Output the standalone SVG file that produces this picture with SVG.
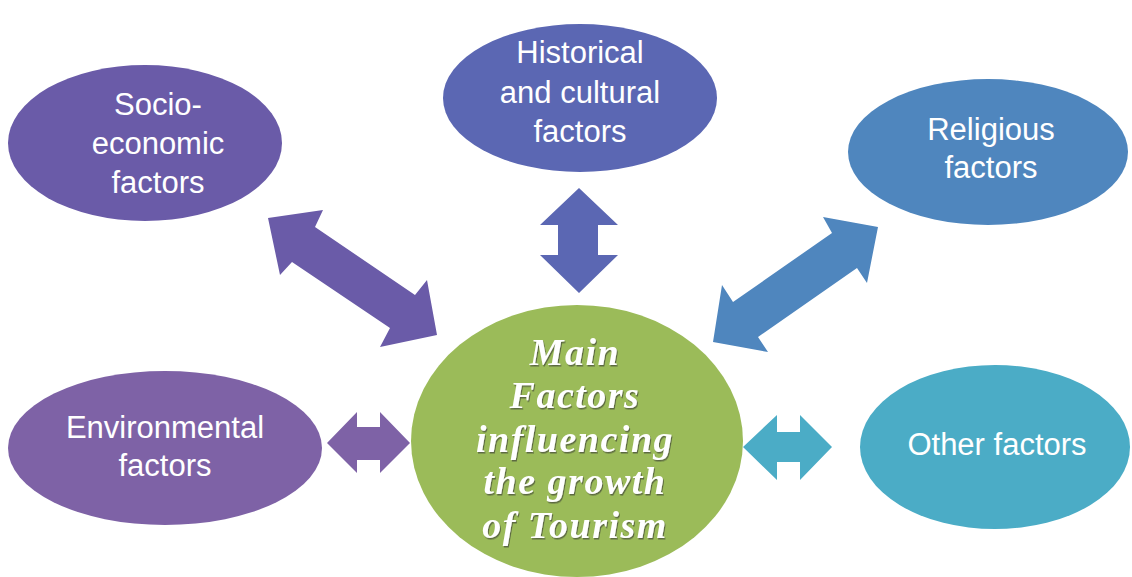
<svg xmlns="http://www.w3.org/2000/svg" width="1132" height="577" viewBox="0 0 1132 577">
<defs>
<style>
.lbl{font-family:"Liberation Sans",Arial,sans-serif;font-size:31px;fill:#fff;text-anchor:middle}
.main{font-family:"Liberation Serif","Times New Roman",serif;font-size:38px;font-weight:bold;font-style:italic;fill:#fff;text-anchor:middle;letter-spacing:1.5px}
</style>
<filter id="sh" x="-10%" y="-10%" width="120%" height="130%">
<feDropShadow dx="1" dy="1.5" stdDeviation="0.6" flood-color="#333" flood-opacity="0.6"/>
</filter>
</defs>
<rect width="1132" height="577" fill="#fff"/>
<g id="connectors">
<polygon fill="#6A5BA8" points="268,218 323,210 315,227 415,295 427,280 437,335 380,347 390,328 292,262 280,275"/>
<polygon fill="#5B67B3" points="579,188 618,225 598,225 598,255 618,255 579,293 540,255 558,255 558,225 540,225"/>
<polygon fill="#4F86BE" points="878,227 867,283 857,268 758,337 768,352 713,342 722,285 733,302 832,233 823,217"/>
<polygon fill="#7E62A6" points="327,443 357,412 357,427 380,427 380,412 410,443 380,473 380,460 357,460 357,473"/>
<polygon fill="#4BACC6" points="743,447 777,415 777,432 800,432 800,415 832,447 800,480 800,462 777,462 777,480"/>
</g>
<g id="socio">
<ellipse cx="145" cy="143" rx="137" ry="78" fill="#6A5BA8"/>
<text class="lbl" x="158" y="115">Socio-</text>
<text class="lbl" x="158" y="154">economic</text>
<text class="lbl" x="158" y="193">factors</text>
</g>
<g id="historical">
<ellipse cx="580" cy="98" rx="137" ry="74" fill="#5B67B3"/>
<text class="lbl" x="580" y="63">Historical</text>
<text class="lbl" x="580" y="103">and cultural</text>
<text class="lbl" x="580" y="142">factors</text>
</g>
<g id="religious">
<ellipse cx="988" cy="152" rx="140" ry="73" fill="#4F86BE"/>
<text class="lbl" x="991" y="140">Religious</text>
<text class="lbl" x="991" y="178">factors</text>
</g>
<g id="environmental">
<ellipse cx="165" cy="448" rx="157" ry="77" fill="#7E62A6"/>
<text class="lbl" x="165" y="438">Environmental</text>
<text class="lbl" x="165" y="476">factors</text>
</g>
<g id="other">
<ellipse cx="995" cy="447" rx="135" ry="82" fill="#4BACC6"/>
<text class="lbl" x="997" y="455">Other factors</text>
</g>
<g id="main">
<ellipse cx="577" cy="441" rx="166" ry="136" fill="#9BBB59"/>
<g filter="url(#sh)">
<text class="main" x="575" y="365">Main</text>
<text class="main" x="575" y="408">Factors</text>
<text class="main" x="575" y="452">influencing</text>
<text class="main" x="575" y="494">the growth</text>
<text class="main" x="575" y="538">of Tourism</text>
</g>
</g>
</svg>
